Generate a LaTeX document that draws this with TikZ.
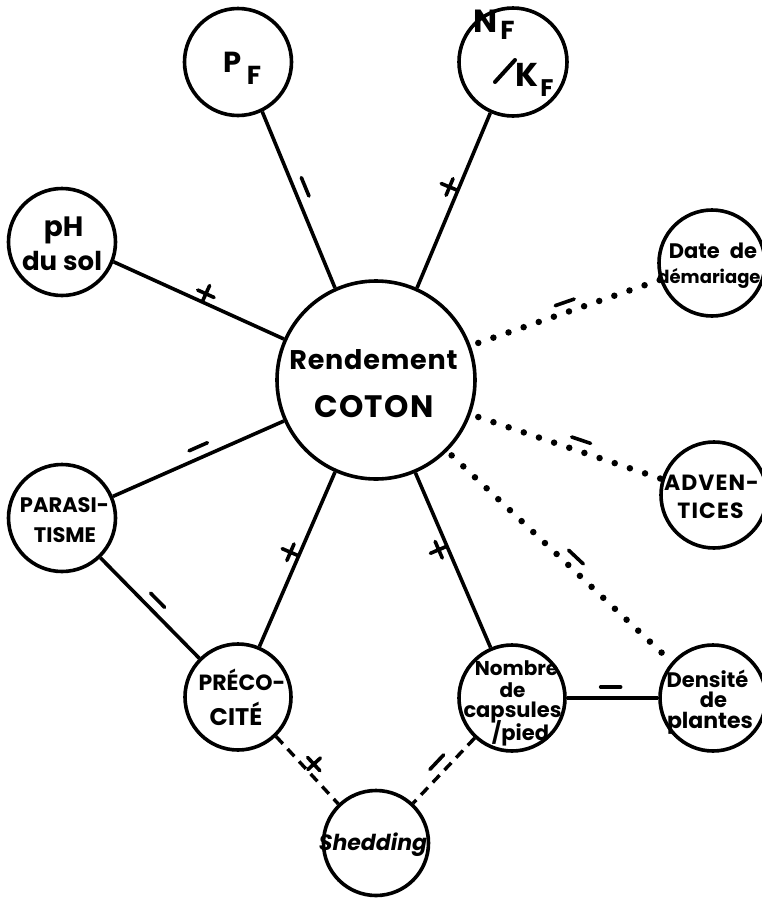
\documentclass[tikz,border=0pt]{standalone}
\usepackage{fontspec}
\usetikzlibrary{calc}
\newfontfamily\geo{Poppins}

\tikzset{
  bubble/.style={draw, circle, line width=3.6pt, inner sep=0pt, minimum size=#1},
  link/.style={line width=3.6pt},
  dotlink/.style={line width=6.5pt, line cap=round, dash pattern=on 0pt off 16pt},
  dashlink/.style={line width=3.4pt, dash pattern=on 10pt off 7pt},
  signline/.style={line width=3.6pt, line cap=round},
  txt/.style={inner sep=0pt, anchor=base, font=\geo\bfseries\fontsize{#1}{#1}\selectfont},
}

% minus sign beside a link: start, end, position, side (+90/-90), offset
\newcommand\minusmark[5]{%
  \draw[signline] let \p1=($(#2)-(#1)$), \n1={atan2(\y1,\x1)} in
    ($(#1)!#3!(#2)$) ++(\n1#4:#5) ++(\n1:-10pt) -- ++(\n1:20pt);}
% plus sign beside a link: start, end, position, side (+90/-90)
\newcommand\plusmark[4]{%
  \draw[signline] let \p1=($(#2)-(#1)$), \n1={atan2(\y1,\x1)} in
    ($(#1)!#3!(#2)$) ++(\n1#4:1pt) -- ++(\n1#4:17pt)
    ($(#1)!#3!(#2)$) ++(\n1#4:9pt) ++(\n1:-9pt) -- ++(\n1:18pt);}

\begin{document}
\begin{tikzpicture}[x=1pt,y=1pt]
\useasboundingbox (0,0) rectangle (761,-900);
\fill[white] (0,0) rectangle (761,-900);

% circles
\node[bubble=198pt] (C)  at (376,-380) {};
\node[bubble=107pt] (PF) at (238,-62)  {};
\node[bubble=108pt] (NK) at (513,-62)  {};
\node[bubble=107pt] (PH) at (62,-242)  {};
\node[bubble=106pt] (DD) at (712,-263) {};
\node[bubble=106pt] (AD) at (714,-495) {};
\node[bubble=107pt] (PA) at (62,-518)  {};
\node[bubble=106pt] (PR) at (238,-697) {};
\node[bubble=106pt] (NB) at (512,-698) {};
\node[bubble=106pt] (DE) at (713,-698) {};
\node[bubble=105pt] (SH) at (376,-843) {};

% links
\draw[link] (PF.-64) -- (C.114);
\draw[link] (NK.-114) -- (C.66);
\draw[link] (PH.-21) -- (C.156);
\draw[link] (PA.23.5) -- (C.-156);
\draw[link] (PA.-46) -- (PR.135);
\draw[link] (PR.67) -- (C.-114);
\draw[link] (NB.113) -- (C.-67);
\draw[link] (NB.east) -- (DE.west);
\draw[dotlink, shorten <=8pt] (C.20) -- (DD.198);
\draw[dotlink, shorten <=8pt] (C.-20) -- (AD.163);
\draw[dotlink, shorten <=6pt] (C.-45) -- (DE.139);
\draw[dashlink] (PR.-46) -- (SH.134);
\draw[dashlink] (NB.-133) -- (SH.47);

% signs
\minusmark{PF.-64}{C.114}{0.45}{+90}{11pt}
\plusmark{NK.-114}{C.66}{0.443}{-90}
\plusmark{PH.-21}{C.156}{0.52}{+90}
\minusmark{C.20}{DD.198}{0.514}{+90}{10pt}
\minusmark{C.-20}{AD.163}{0.56}{+90}{11pt}
\minusmark{C.-45}{DE.139}{0.54}{+90}{11pt}
\minusmark{PA.23.5}{C.-156}{0.525}{+90}{11pt}
\minusmark{PA.-46}{PR.135}{0.5}{+90}{11pt}
\plusmark{PR.67}{C.-114}{0.52}{+90}
\plusmark{NB.113}{C.-67}{0.58}{+90}
\minusmark{NB.east}{DE.west}{0.48}{+90}{11pt}
\plusmark{PR.-46}{SH.134}{0.5}{+90}
\minusmark{NB.-133}{SH.47}{0.485}{-90}{11pt}

% texts
\node[txt=27] (Cl1) at (373.5,-369) {\addfontfeatures{LetterSpace=3}Rendement};
\node[txt=31] (Cl2) at (374,-417) {\addfontfeatures{LetterSpace=4}COTON};
\node[txt=29] (PFa) at (232.5,-72) {P};
\node[txt=26] (PFb) at (254,-84) {F};
\node[txt=32] (NKa) at (486,-32) {N};
\node[txt=26] (NKb) at (507.5,-39) {F};
\draw[signline, line width=4pt] (495,-82) -- (515,-60);
\node[txt=33] (NKc) at (527,-86) {K};
\node[txt=24] (NKd) at (547,-96) {F};
\node[txt=28] (PHa) at (63.5,-236) {pH};
\node[txt=26] (PHb) at (62,-270) {du\hspace{6pt}sol};
\node[txt=21] (DDa) at (713,-258) {Date\hspace{10pt}de};
\node[txt=18] (DDb) at (709,-283) {démariage};
\node[txt=22] (ADa) at (711.5,-490) {\addfontfeatures{LetterSpace=5}ADVEN-};
\node[txt=22] (ADb) at (710.5,-518) {\addfontfeatures{LetterSpace=5}TICES};
\node[txt=21] (PAa) at (64.5,-512) {PARASI-};
\node[txt=21] (PAb) at (65,-542) {TISME};
\node[txt=22] (PRa) at (242,-690) {PRÉCO-};
\node[txt=24] (PRb) at (236,-725) {CITÉ};
\node[txt=20] (NBa) at (516.5,-675) {Nombre};
\node[txt=20] (NBb) at (512.5,-697) {de};
\node[txt=21] (NBc) at (512.5,-717) {capsules};
\node[txt=21] (NBd) at (520.5,-740) {/pied};
\node[txt=21] (DEa) at (707.5,-687) {Densité};
\node[txt=21] (DEb) at (713.5,-707) {de};
\node[txt=22] (DEc) at (710,-728) {plantes};
\node[txt=22] (SHa) at (373,-850) {\itshape Shedding};
\end{tikzpicture}
\end{document}
